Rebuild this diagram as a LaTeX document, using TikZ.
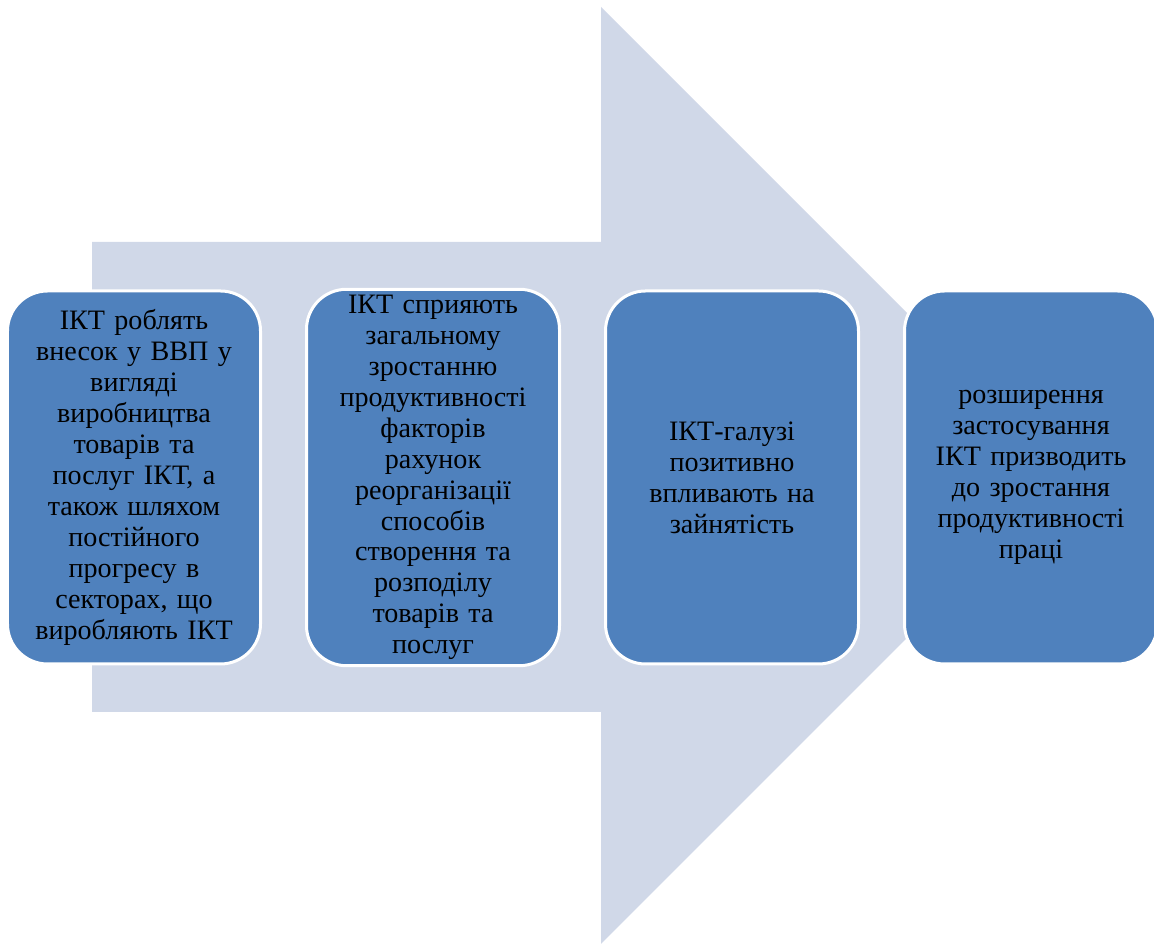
\documentclass[tikz,border=0pt]{standalone}
\usepackage{fontspec}
\setmainfont{Liberation Serif}[Script=Cyrillic]
\usetikzlibrary{positioning}
\definecolor{stepblue}{HTML}{4F81BD}
\definecolor{arrowgrey}{HTML}{D0D8E8}
\tikzset{
  stepbox/.style={rectangle, rounded corners=0.8cm, fill=stepblue, draw=white,
    line width=0.06cm, outer sep=0pt, minimum width=5.06cm, minimum height=7.46cm,
    text width=4.8cm, align=center, font=\fontsize{16}{17.6}\selectfont},
}

\begin{document}
\begin{tikzpicture}
            \useasboundingbox (0,0) rectangle (23.08,18.88);
            % big arrow behind the boxes
            \fill[arrowgrey] (1.84,14.04) -- (12.02,14.04) -- (12.02,18.74) -- (21.39,9.37)
                -- (12.02,0) -- (12.02,4.64) -- (1.84,4.64) -- cycle;
            \node[stepbox] (ict) at (2.68,9.33) {ІКТ роблять\\ внесок у ВВП у\\ вигляді\\ виробництва\\ товарів та\\ послуг ІКТ, а\\ також шляхом\\ постійного\\ прогресу в\\ секторах, що\\ виробляють ІКТ};
            \node[stepbox, right=0.92cm of ict] (tfp) {ІКТ сприяють\\ загальному\\ зростанню\\ продуктивності\\ факторів\\ рахунок\\ реорганізації\\ способів\\ створення та\\ розподілу\\ товарів та\\ послуг};
            \node[stepbox, right=0.92cm of tfp] (jobs) {ІКТ-галузі\\ позитивно\\ впливають на\\ зайнятість};
            \node[stepbox, right=0.92cm of jobs] (labour) {розширення\\ застосування\\ ІКТ призводить\\ до зростання\\ продуктивності\\ праці};
        \end{tikzpicture}
\end{document}
